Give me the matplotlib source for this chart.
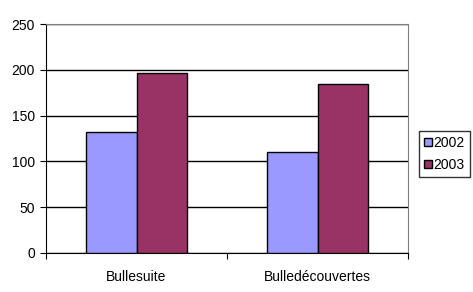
import matplotlib
matplotlib.use("Agg")
import matplotlib.pyplot as plt
import numpy as np

plt.rcParams['font.family'] = ['Liberation Sans', 'DejaVu Sans']
plt.rcParams['font.size'] = 10

categories = ['Bullesuite', 'Bulledécouvertes']
series_names = ['2002', '2003']
values_2002 = [132, 110]
values_2003 = [196, 185]
colors = ['#9999FF', '#993366']

fig = plt.figure(figsize=(4.73, 2.92), dpi=100)
ax = fig.add_axes([46 / 473, 39 / 292, 362 / 473, 229 / 292])

x = np.arange(len(categories))
w = 0.28
ax.bar(x - w / 2, values_2002, w, color=colors[0], edgecolor='black', linewidth=1, label=series_names[0], zorder=3)
ax.bar(x + w / 2, values_2003, w, color=colors[1], edgecolor='black', linewidth=1, label=series_names[1], zorder=3)

ax.set_xlim(-0.5, len(categories) - 0.5)
ax.set_ylim(0, 250)
ax.set_yticks(range(0, 251, 50))
ax.yaxis.grid(True, color='black', linewidth=1, zorder=0)

# category labels centred, ticks on boundaries
ax.set_xticks([-0.5, 0.5, 1.5])
ax.set_xticklabels([])
ax.set_xticks(x, minor=True)
ax.set_xticklabels(categories, minor=True)
ax.tick_params(axis='x', which='minor', length=0, pad=12)
ax.tick_params(axis='x', which='major', length=4, direction='out', color='black')
ax.tick_params(axis='y', length=4, direction='out', pad=4)

for s in ['top', 'right']:
    ax.spines[s].set_color('#808080')
for s in ['left', 'bottom']:
    ax.spines[s].set_color('black')

leg = ax.legend(loc='center left', bbox_to_anchor=(419 / 473, 138 / 292), bbox_transform=fig.transFigure,
                frameon=True, fancybox=False, edgecolor='black', handlelength=0.55, handleheight=0.55,
                handletextpad=0.15, borderpad=0.35, labelspacing=0.55, borderaxespad=0)
leg.get_frame().set_linewidth(1)

fig.savefig('out.png', dpi=100)
